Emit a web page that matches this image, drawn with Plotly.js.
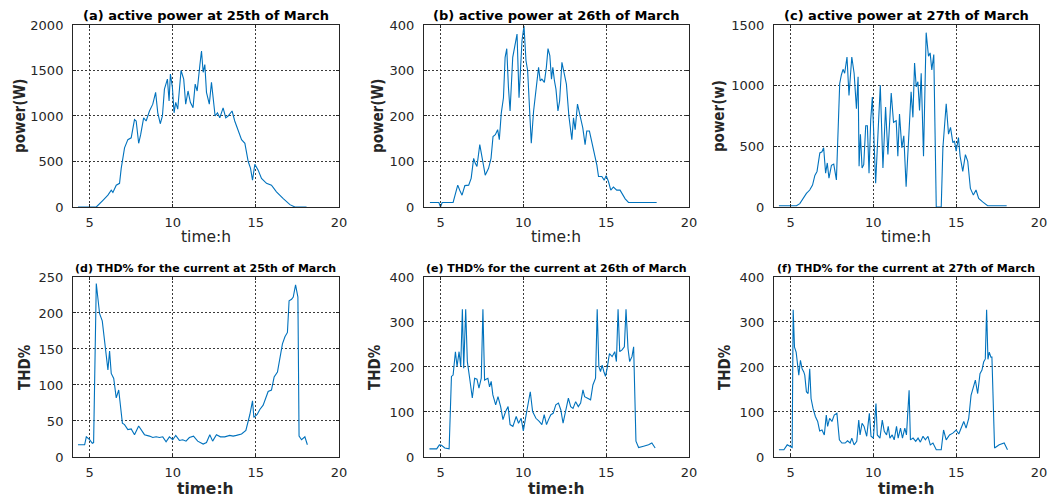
<!DOCTYPE html>
<html><head><meta charset="utf-8">
<script src="https://cdn.plot.ly/plotly-3.0.1.min.js"></script>
<style>html,body{margin:0;padding:0;background:#fff;} #chart{width:1052px;height:497px;}</style>
</head><body><div id="chart"></div>
<script>
// (a) active power 25th March
const xa=[4.3,5.4,5.8,6.1,6.3,6.4,6.6,6.8,6.9,7.0,7.1,7.3,7.5,7.7,7.8,7.95,8.07,8.25,8.4,8.6,8.8,8.97,9.1,9.25,9.38,9.5,9.68,9.78,9.86,9.98,10.08,10.18,10.3,10.5,10.66,10.78,10.92,11.06,11.22,11.35,11.47,11.63,11.73,11.83,11.93,12.03,12.2,12.33,12.43,12.55,12.69,12.83,13.03,13.19,13.33,13.57,13.73,13.94,14.14,14.34,14.54,14.68,14.8,14.94,15.14,15.34,15.64,15.94,16.24,16.65,17.05,17.35,18.05];
const ya=[0,0,74,130,185,160,240,260,425,520,650,740,760,960,945,700,795,980,945,1055,1130,1260,1035,915,1000,1295,1405,1165,1460,1313,1035,1150,1075,1500,1405,1130,1275,1150,1090,1350,1275,1555,1715,1480,1565,1260,1130,1370,1165,1000,1035,980,1090,980,1000,1055,945,830,740,700,500,425,295,470,405,315,260,240,167,93,26,0,0];
// (b) active power 26th March
const xb=[4.36,4.9,5.0,5.1,5.76,6.04,6.16,6.3,6.47,6.7,6.85,7.0,7.1,7.2,7.37,7.5,7.7,7.9,8.05,8.17,8.31,8.45,8.55,8.67,8.8,8.9,9.0,9.1,9.2,9.36,9.5,9.62,9.74,9.82,9.92,10.04,10.16,10.26,10.38,10.48,10.62,10.78,10.92,11.02,11.12,11.27,11.39,11.49,11.6,11.7,11.78,11.88,11.97,12.09,12.19,12.33,12.47,12.6,12.75,12.93,13.03,13.13,13.27,13.43,13.59,13.73,13.83,13.99,14.14,14.28,14.44,14.54,14.74,14.88,15.0,15.14,15.28,15.44,15.64,15.84,16.0,16.15,16.35,18.05];
const yb=[10,10,0,10,10,48,37,26,47,48,63,107,96,89,137,107,70,85,107,155,159,170,148,207,240,329,348,263,211,329,359,380,240,300,366,398,322,300,203,140,211,266,307,277,281,274,307,348,333,281,307,277,259,211,233,318,289,270,200,148,196,170,226,203,174,137,167,167,144,118,92,67,67,59,69,56,37,44,37,37,26,18,10,10];
// (c) active power 27th March
const xc=[4.3,5.36,5.56,5.76,5.96,6.16,6.33,6.47,6.6,6.77,6.9,7.0,7.12,7.22,7.32,7.47,7.61,7.77,7.87,7.97,8.07,8.17,8.27,8.41,8.53,8.7,8.84,8.98,9.08,9.14,9.22,9.32,9.42,9.54,9.64,9.74,9.84,9.94,10.14,10.28,10.42,10.58,10.74,10.88,11.08,11.22,11.38,11.48,11.58,11.72,11.84,11.98,12.14,12.28,12.39,12.49,12.59,12.69,12.79,12.89,13.03,13.19,13.33,13.43,13.53,13.65,13.8,14.1,14.2,14.4,14.54,14.66,14.8,14.9,15.0,15.14,15.24,15.4,15.56,15.7,15.86,16.04,16.2,16.36,16.6,16.9,18.05];
const yc=[10,10,28,70,112,140,181,260,293,446,455,488,279,363,237,343,354,223,614,1018,1088,1135,1102,1236,920,1236,1102,809,1074,335,600,321,349,670,670,279,711,907,195,572,1004,321,823,432,940,698,711,418,767,488,586,167,628,949,739,1186,990,1032,795,1102,418,1437,1242,1270,1130,1256,0,0,488,851,600,656,530,544,460,572,418,293,432,377,153,98,140,70,42,10,10];
// (d) THD% current 25th March
const xd=[4.3,4.7,4.8,5.0,5.16,5.24,5.4,5.6,5.76,5.9,6.04,6.1,6.2,6.3,6.45,6.6,6.75,6.85,6.97,7.1,7.3,7.5,7.7,7.95,8.1,8.3,8.6,8.8,9.0,9.2,9.4,9.6,9.8,10.0,10.18,10.4,10.6,10.8,11.0,11.25,11.5,11.83,12.03,12.23,12.4,12.63,12.87,13.13,13.43,13.63,13.83,14.14,14.4,14.64,14.8,14.88,15.08,15.24,15.44,15.64,15.74,15.94,16.1,16.3,16.45,16.6,16.75,16.9,17.0,17.15,17.25,17.39,17.53,17.6,17.75,17.95,18.1];
const yd=[17,17,28,24,19,20,241,199,189,157,132,121,147,116,109,82,93,72,47,45,38,39,31,43,37,31,29,27,28,27,28,21,28,24,30,23,24,22,27,29,22,18,20,31,22,31,28,28,30,29,30,32,37,59,78,55,59,66,72,83,91,93,111,118,137,157,167,173,217,219,222,239,222,29,24,28,17];
// (e) THD% current 26th March
const xe=[4.33,4.77,4.93,5.06,5.26,5.52,5.66,5.76,5.9,6.0,6.12,6.22,6.32,6.4,6.52,6.62,6.76,6.92,7.06,7.2,7.32,7.46,7.56,7.66,7.86,7.96,8.06,8.16,8.33,8.47,8.63,8.77,8.93,9.08,9.2,9.37,9.57,9.71,9.87,10.0,10.13,10.27,10.42,10.56,10.76,10.96,11.12,11.26,11.4,11.52,11.66,11.8,11.96,12.12,12.26,12.4,12.56,12.72,12.86,13.0,13.16,13.32,13.46,13.6,13.7,13.86,14.06,14.2,14.36,14.46,14.56,14.66,14.76,14.86,14.96,15.06,15.2,15.36,15.52,15.62,15.72,15.82,15.96,16.1,16.2,16.32,16.42,16.56,16.66,16.8,16.96,17.26,17.56,17.76,17.96];
const ye=[18,18,27,26,20,18,179,182,234,201,234,201,328,197,328,212,175,131,175,173,153,175,328,171,175,156,168,138,116,134,112,83,101,112,72,68,90,75,86,58,86,116,145,101,86,79,72,94,72,83,94,97,116,120,105,75,101,131,112,108,123,112,120,149,134,131,127,160,175,328,201,190,204,190,179,197,230,223,234,212,328,234,238,245,328,241,212,223,245,35,21,24,27,31,20];
// (f) THD% current 27th March
const xf=[4.3,4.6,4.8,4.96,5.1,5.16,5.24,5.34,5.44,5.5,5.6,5.7,5.8,5.86,5.96,6.06,6.16,6.24,6.36,6.5,6.64,6.76,6.9,7.04,7.16,7.24,7.36,7.5,7.64,7.8,7.95,8.1,8.3,8.44,8.6,8.7,8.84,9.0,9.12,9.2,9.32,9.44,9.6,9.76,9.86,10.0,10.16,10.24,10.4,10.54,10.66,10.8,10.9,11.0,11.14,11.26,11.4,11.5,11.64,11.76,11.9,12.0,12.16,12.24,12.4,12.56,12.7,12.84,13.0,13.14,13.3,13.44,13.6,13.8,14.1,14.24,14.4,14.6,14.8,15.0,15.16,15.3,15.46,15.6,15.76,15.9,16.04,16.16,16.3,16.44,16.56,16.66,16.76,16.84,16.92,17.0,17.1,17.16,17.32,17.6,17.9,18.1];
const yf=[16,16,27,24,21,327,244,233,193,182,215,196,189,182,145,141,196,130,108,90,79,58,60,49,93,68,86,79,93,97,38,31,31,36,31,42,27,35,82,49,75,68,46,97,46,42,119,49,42,82,57,49,68,42,49,38,68,42,64,42,64,49,148,38,42,35,42,33,46,38,46,27,31,16,16,60,38,49,53,60,51,64,79,64,86,137,156,171,141,185,193,211,218,327,217,233,222,222,20,27,31,16];

const titles=['(a) active power at 25th of March','(b) active power at 26th of March','(c) active power at 27th of March',
  '(d) THD% for the current at 25th of March','(e) THD% for the current at 26th of March','(f) THD% for the current at 27th of March'];
const yLabels=['power(W)','power(W)','power(w)','THD%','THD%','THD%'];
const xLabel='time:h';
const xRange=[4,20];
const yRanges=[[0,2000],[0,400],[0,1500],[0,250],[0,400],[0,400]];
const yTicks=[500,100,500,50,100,100];

const series=[[xa,ya],[xb,yb],[xc,yc],[xd,yd],[xe,ye],[xf,yf]];

// layout geometry
const colDom=[[0.0694,0.3222],[0.4030,0.6549],[0.7357,0.9876]];
const rowDom=[[0.5835,0.9497],[0.0805,0.4427]];
const ylabX=[[0.019,0.3593,0.6835],[0.0238,0.3565,0.6892]];
const titleY=[0.9698,0.4588];
const xlabY=[0.5231,0.016];
const lineColor='#0072BD';
const axColor='#262626';
const fam='DejaVu Sans, Liberation Sans, sans-serif';

const traces=[]; const layout={
  width:1052,height:497,margin:{l:0,r:0,t:0,b:0},paper_bgcolor:'#fff',plot_bgcolor:'#fff',
  showlegend:false,annotations:[],font:{family:fam,color:axColor}
};
series.forEach((s,i)=>{
  const r=Math.floor(i/3), c=i%3, n=i+1;
  const xk='x'+(n>1?n:''), yk='y'+(n>1?n:'');
  traces.push({x:s[0],y:s[1],type:'scatter',mode:'lines',xaxis:xk,yaxis:yk,
    line:{color:lineColor,width:1.1},hoverinfo:'skip'});
  const common={showline:true,mirror:'ticks',linecolor:axColor,linewidth:1,
    ticks:'inside',ticklen:3,tickcolor:axColor,zeroline:false,showgrid:true,
    gridcolor:'#3a3a3a',griddash:'2px,2px',gridwidth:1,
    tickfont:{family:fam,size:13,color:axColor}};
  layout['xaxis'+(n>1?n:'')]=Object.assign({},common,{domain:colDom[c],anchor:yk,range:xRange,
    tickmode:'linear',tick0:5,dtick:5,ticklabelstandoff:3});
  layout['yaxis'+(n>1?n:'')]=Object.assign({},common,{domain:rowDom[r],anchor:xk,range:yRanges[i],
    tickmode:'linear',tick0:0,dtick:yTicks[i],ticklabelstandoff:6});
  const cx=(colDom[c][0]+colDom[c][1])/2;
  layout.annotations.push({text:titles[i],xref:'paper',yref:'paper',x:cx,y:titleY[r],xanchor:'center',yanchor:'middle',
    showarrow:false,font:{family:fam,size:r===0?13:11,weight:'bold',color:'#000'}});
  layout.annotations.push({text:xLabel,xref:'paper',yref:'paper',x:cx,y:xlabY[r],xanchor:'center',yanchor:'middle',
    showarrow:false,font:{family:fam,size:15.5,weight:r===0?'normal':'bold',color:axColor}});
  layout.annotations.push({text:yLabels[i],xref:'paper',yref:'paper',x:ylabX[r][c],y:(rowDom[r][0]+rowDom[r][1])/2,
    xanchor:'center',yanchor:'middle',textangle:-90,showarrow:false,
    font:{family:'DejaVu Sans Condensed, DejaVu Sans, sans-serif',size:15,weight:'bold',color:axColor}});
});
Plotly.newPlot('chart',traces,layout,{staticPlot:true,displayModeBar:false});
</script></body></html>
